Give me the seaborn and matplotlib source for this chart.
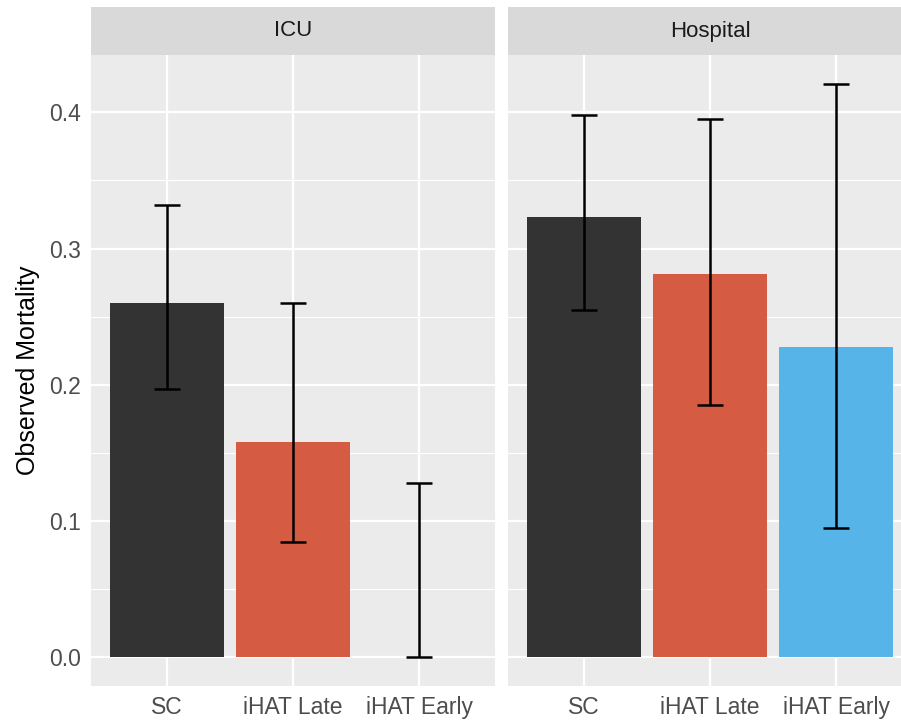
import numpy as np
import pandas as pd
import seaborn as sns
import matplotlib.pyplot as plt

# observed mortality with 95% CI
groups = ['SC', 'iHAT Late', 'iHAT Early']
panels = ['ICU', 'Hospital']
icu_mean = [0.260, 0.158, 0.000]
icu_low = [0.197, 0.085, 0.000]
icu_high = [0.332, 0.260, 0.128]
hosp_mean = [0.323, 0.281, 0.228]
hosp_low = [0.255, 0.185, 0.095]
hosp_high = [0.398, 0.395, 0.421]
colors = ['#333333', '#D55B43', '#56B4E9']

df = pd.DataFrame({
    'panel': np.repeat(panels, len(groups)),
    'group': groups * 2,
    'mortality': icu_mean + hosp_mean,
    'low': icu_low + hosp_low,
    'high': icu_high + hosp_high,
})

sns.set_theme(style='darkgrid')
plt.rcParams['font.family'] = ['Liberation Sans', 'DejaVu Sans']

W, H = 901, 724
fig = plt.figure(figsize=(W / 100, H / 100), dpi=100)
bot, top = 1 - 686 / H, 1 - 55 / H
strip_top = 1 - 7 / H
lefts = [91, 508]
width = 404

axes = []
for i, panel in enumerate(panels):
    x0 = lefts[i] / W
    w = width / W
    ax = fig.add_axes([x0, bot, w, top - bot], sharey=axes[0] if axes else None)
    sub = df[df['panel'] == panel]
    sns.barplot(data=sub, x='group', y='mortality', hue='group', order=groups,
                hue_order=groups, palette=colors, width=0.9, errorbar=None,
                legend=False, saturation=1, linewidth=0, ax=ax)
    pos = np.arange(len(groups))
    m = sub['mortality'].values
    ax.errorbar(pos, m, yerr=[m - sub['low'].values, sub['high'].values - m],
                fmt='none', ecolor='black', elinewidth=1.8, capsize=9.5,
                capthick=1.8, zorder=5)
    ax.set_facecolor('#EBEBEB')
    ax.set_xlim(-0.6, 2.6)
    ax.set_ylim(-0.021, 0.442)
    ax.set_yticks([0, 0.1, 0.2, 0.3, 0.4])
    ax.set_yticks([0.05, 0.15, 0.25, 0.35], minor=True)
    ax.grid(which='major', color='white', linewidth=1.6)
    ax.grid(which='minor', axis='y', color='white', linewidth=0.8)
    ax.set_axisbelow(True)
    for s in ax.spines.values():
        s.set_visible(False)
    ax.set_xlabel('')
    ax.tick_params(axis='both', which='major', length=4, width=1.1,
                   color='#333333', labelcolor='#4D4D4D', labelsize=16.5, pad=3)
    ax.tick_params(axis='y', which='minor', length=0)
    if i == 0:
        ax.set_yticklabels(['0.0', '0.1', '0.2', '0.3', '0.4'])
        ax.set_ylabel('Observed Mortality', fontsize=18, color='black', labelpad=7)
    else:
        ax.set_ylabel('')
        ax.tick_params(axis='y', which='both', left=False, labelleft=False)
    # facet strip
    sax = fig.add_axes([x0, top, w, strip_top - top])
    sax.set_facecolor('#D9D9D9')
    sax.set_xticks([])
    sax.set_yticks([])
    for s in sax.spines.values():
        s.set_visible(False)
    sax.text(0.5, 0.5, panel, ha='center', va='center', fontsize=16,
             color='#1A1A1A', transform=sax.transAxes)
    axes.append(ax)

fig.savefig('out.png', dpi=100, facecolor='white')
